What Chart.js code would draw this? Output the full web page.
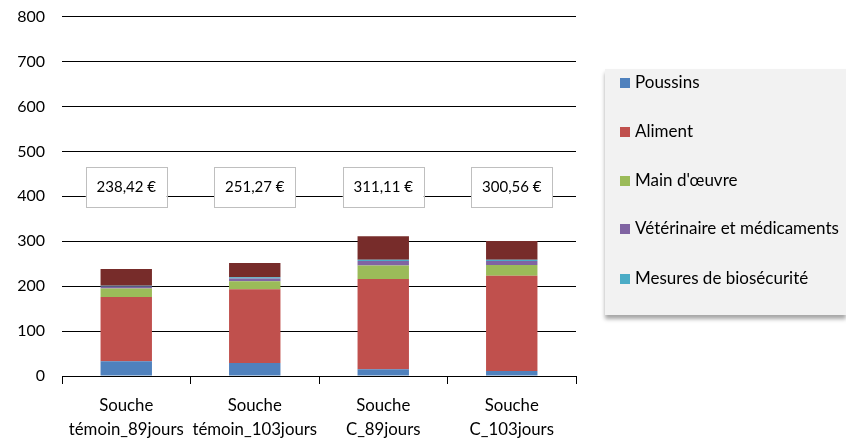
<!DOCTYPE html>
<html lang="fr">
<head>
<meta charset="utf-8">
<script src="https://cdn.jsdelivr.net/npm/chart.js@4.4.0/dist/chart.umd.min.js"></script>
<style>
    body { margin: 0; background: #fff; }
    #wrap { position: relative; width: 846px; height: 444px; overflow: hidden; }
    #myChart { position: absolute; left: 0; top: -10px; }
    #legende {
        position: absolute; left: 605px; top: 69px; width: 241px; height: 246px;
        background: #f2f2f2; box-shadow: 0 4px 4px rgba(0, 0, 0, 0.35);
        font-family: Lato, "Liberation Sans", sans-serif; font-size: 17px; color: #000;
    }
    .item { position: absolute; left: 15px; height: 20px; line-height: 20px; white-space: nowrap; }
    .item span { display: inline-block; width: 10px; height: 10px; margin-right: 5px; vertical-align: 0px; }
</style>
</head>
<body>
<div id="wrap">
    <canvas id="myChart" width="846" height="454"></canvas>
    <div id="legende"></div>
</div>
<script>
// categories (deux lignes par etiquette)
var categories = [
    ["Souche", "témoin_89jours"],
    ["Souche", "témoin_103jours"],
    ["Souche", "C_89jours"],
    ["Souche", "C_103jours"]
];

// valeurs (€)
var poussins = [33, 29, 15, 11];
var aliment = [143, 164, 201, 212];
var mainOeuvre = [19, 18, 30, 24];
var veterinaire = [4, 6, 10, 9];
var biosecurite = [2, 3, 3, 3];
var autres = [37.42, 31.27, 52.11, 41.56];

// totaux affiches dans les cadres
var totaux = ["238,42 €", "251,27 €", "311,11 €", "300,56 €"];

var yTicks = [0, 100, 200, 300, 400, 500, 600, 700, 800];

var series = [
    { label: "Poussins", data: poussins, color: "#4f81bd", legend: true },
    { label: "Aliment", data: aliment, color: "#c0504d", legend: true },
    { label: "Main d'œuvre", data: mainOeuvre, color: "#9bbb59", legend: true },
    { label: "Vétérinaire et médicaments", data: veterinaire, color: "#8064a2", legend: true },
    { label: "Mesures de biosécurité", data: biosecurite, color: "#4bacc6", legend: true },
    { label: "Autres", data: autres, color: "#772c2a", legend: false }
];

var police = "Lato, 'Liberation Sans', sans-serif";

// cadres avec le total au dessus de chaque barre
var cadresTotaux = {
    id: "cadresTotaux",
    afterDatasetsDraw: function (chart) {
        var ctx = chart.ctx;
        var xs = chart.scales.x;
        var ys = chart.scales.y;
        ctx.save();
        ctx.font = "15px " + police;
        ctx.textAlign = "center";
        ctx.textBaseline = "middle";
        for (var i = 0; i < totaux.length; i++) {
            var x = xs.getPixelForValue(i);
            var y = ys.getPixelForValue(420);
            ctx.fillStyle = "#fff";
            ctx.fillRect(x - 40.5, y - 20, 81, 40);
            ctx.strokeStyle = "#bfbfbf";
            ctx.lineWidth = 1;
            ctx.strokeRect(Math.round(x - 40.5) + 0.5, Math.round(y - 20) + 0.5, 81, 40);
            ctx.fillStyle = "#000";
            ctx.fillText(totaux[i], x, y);
        }
        ctx.restore();
    }
};

new Chart("myChart", {
    type: "bar",
    data: {
        labels: categories,
        datasets: series.map(function (s) {
            return {
                label: s.label,
                data: s.data,
                backgroundColor: s.color,
                barPercentage: 0.4,
                categoryPercentage: 1
            };
        })
    },
    options: {
        responsive: false,
        animation: false,
        layout: { padding: { left: 0, right: 270, top: 0, bottom: 0 } },
        plugins: {
            legend: { display: false },
            tooltip: { enabled: false }
        },
        scales: {
            x: {
                stacked: true,
                offset: true,
                grid: {
                    offset: true,
                    drawOnChartArea: false,
                    drawTicks: true,
                    tickLength: 8,
                    color: "#000"
                },
                border: { color: "#000", width: 1 },
                ticks: {
                    color: "#000",
                    font: { family: police, size: 16.8, lineHeight: 1.45 },
                    padding: 9,
                    maxRotation: 0,
                    autoSkip: false
                },
                afterFit: function (scale) { scale.height = 68; }
            },
            y: {
                stacked: true,
                min: 0,
                max: 800,
                afterBuildTicks: function (scale) {
                    scale.ticks = yTicks.map(function (v) { return { value: v }; });
                },
                grid: { color: "#000", drawTicks: false },
                border: { display: false },
                ticks: {
                    color: "#000",
                    font: { family: police, size: 16 },
                    padding: 17
                },
                afterFit: function (scale) { scale.width = 62; }
            }
        }
    },
    plugins: [cadresTotaux]
});

// legende HTML (le poste "Autres" n'y figure pas)
var legende = document.getElementById("legende");
var tops = [3, 52, 101, 149, 199];
var n = 0;
series.forEach(function (s) {
    if (!s.legend) return;
    var div = document.createElement("div");
    div.className = "item";
    div.style.top = tops[n] + "px";
    div.innerHTML = '<span style="background:' + s.color + '"></span>' + s.label;
    legende.appendChild(div);
    n++;
});
</script>
</body>
</html>
